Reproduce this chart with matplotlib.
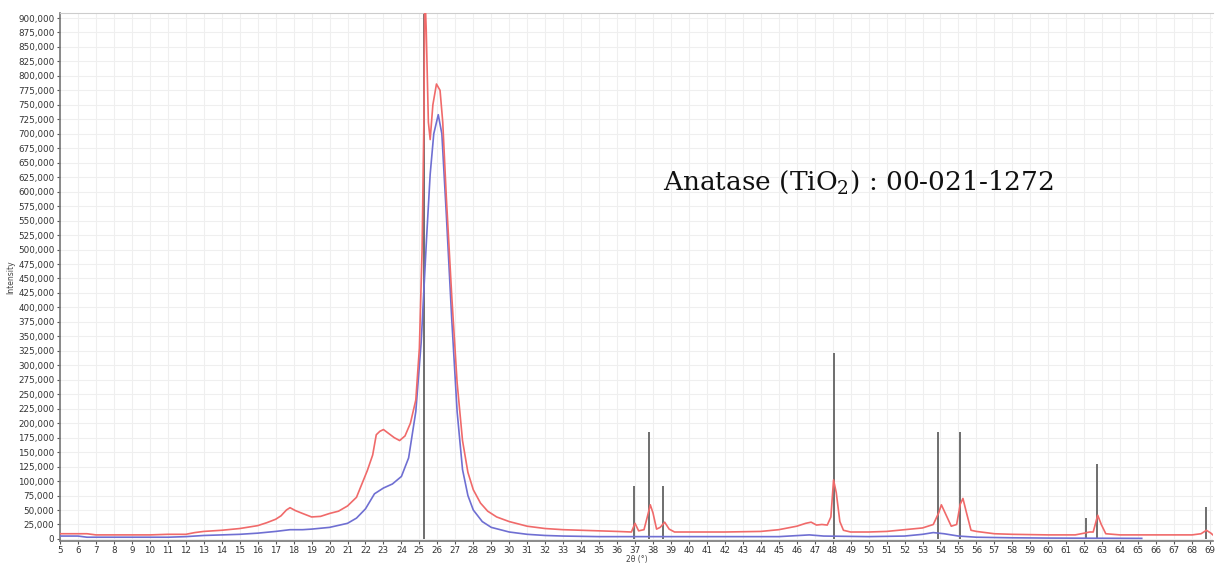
import numpy as np
import matplotlib
matplotlib.use("Agg")
import matplotlib.pyplot as plt
from matplotlib.ticker import FuncFormatter, MultipleLocator

red_x = [5, 5.5, 6, 6.5, 7, 8, 9, 10, 11, 12, 12.5, 13, 14, 15, 16, 16.5, 17, 17.3, 17.6, 17.8,
         18.1, 18.5, 19, 19.5, 20, 20.5, 21, 21.5, 21.8, 22.1, 22.4, 22.6, 22.8, 23.0, 23.3, 23.6,
         23.9, 24.2, 24.5, 24.8, 25.0, 25.15, 25.25, 25.3, 25.38, 25.5, 25.6, 25.75, 25.95, 26.15,
         26.3, 26.5, 26.8, 27.1, 27.4, 27.7, 28.0, 28.4, 28.8, 29.3, 30, 31, 32, 33, 34, 35, 36,
         36.8, 37.0, 37.2, 37.5, 37.7, 37.85, 38.0, 38.2, 38.4, 38.65, 38.9, 39.2, 40, 42, 44, 45,
         46, 46.5, 46.8, 47.1, 47.4, 47.7, 47.9, 48.05, 48.2, 48.4, 48.6, 49, 50, 51, 52, 53, 53.6,
         53.9, 54.05, 54.3, 54.6, 54.9, 55.1, 55.25, 55.45, 55.7, 56, 56.5, 57, 58, 60, 61.5, 62.0,
         62.3, 62.5, 62.75, 62.95, 63.2, 64, 66, 68, 68.5, 68.8, 69.05, 69.2]
red_y = [9e3, 9e3, 9e3, 9e3, 7e3, 7e3, 7e3, 7e3, 8e3, 8e3, 11e3, 13e3, 15e3, 18e3, 23e3, 28e3,
         34e3, 40e3, 50e3, 54e3, 49e3, 44e3, 38e3, 39e3, 44e3, 48e3, 57e3, 72e3, 95e3, 118e3,
         145e3, 180e3, 186e3, 189e3, 182e3, 175e3, 170e3, 178e3, 200e3, 240e3, 330e3, 500e3,
         720e3, 950e3, 880e3, 720e3, 690e3, 750e3, 786e3, 775e3, 720e3, 590e3, 420e3, 270e3,
         170e3, 115e3, 85e3, 62e3, 48e3, 38e3, 30e3, 22e3, 18e3, 16e3, 15e3, 14e3, 13e3, 12e3,
         27e3, 14e3, 16e3, 40e3, 59e3, 45e3, 17e3, 20e3, 29e3, 17e3, 12e3, 12e3, 12e3, 13e3,
         16e3, 22e3, 27e3, 29e3, 24e3, 25e3, 24e3, 38e3, 102e3, 80e3, 30e3, 15e3, 12e3, 12e3,
         13e3, 16e3, 19e3, 25e3, 45e3, 59e3, 42e3, 22e3, 25e3, 60e3, 70e3, 45e3, 15e3, 13e3,
         11e3, 9e3, 8e3, 7e3, 7e3, 10e3, 12e3, 12e3, 41e3, 25e3, 9e3, 7e3, 7e3, 7e3, 9e3, 15e3,
         10e3, 6e3]

blue_x = [5, 6, 6.5, 7, 8, 10, 11, 12, 13, 14, 15, 16, 17, 17.8, 18.5, 19, 20, 21, 21.5, 22,
          22.5, 23, 23.5, 24, 24.4, 24.8, 25.1, 25.4, 25.6, 25.8, 26.05, 26.25, 26.5, 26.8, 27.1,
          27.4, 27.7, 28.0, 28.5, 29, 30, 31, 32, 33, 35, 40, 45, 46.7, 47.5, 50, 52, 53, 53.6,
          54.2, 55, 56, 58, 60, 65.2]
blue_y = [5e3, 5e3, 3e3, 3e3, 3e3, 3e3, 3e3, 4e3, 6e3, 7e3, 8e3, 10e3, 13e3, 16e3, 16e3, 17e3,
          20e3, 27e3, 36e3, 52e3, 78e3, 88e3, 95e3, 108e3, 140e3, 220e3, 340e3, 520e3, 630e3,
          700e3, 733e3, 700e3, 560e3, 380e3, 220e3, 120e3, 75e3, 50e3, 30e3, 20e3, 12e3, 8e3,
          6e3, 5e3, 4e3, 4e3, 4e3, 7e3, 5e3, 4e3, 5e3, 8e3, 11e3, 9e3, 5e3, 3e3, 2e3, 1.5e3, 1e3]

# reference pattern 00-021-1272 (anatase): positions and relative intensities
ref_pos = [25.28, 36.95, 37.80, 38.58, 48.05, 53.89, 55.06, 62.12, 62.69, 68.76]
ref_int = [100, 10, 20, 10, 35, 20, 20, 4, 14, 6]
ref_scale = 9200

fig = plt.figure(figsize=(12.15, 5.67), dpi=100)
ax = fig.add_axes([0.0494, 0.046, 0.9490, 0.931])

ax.grid(True, which="major", color="#efefef", lw=0.8)
ax.set_axisbelow(True)

ax.vlines(ref_pos, 0, np.array(ref_int) * ref_scale, color="#6e6e6e", lw=1.4, zorder=2)
ax.plot(blue_x, blue_y, color="#6f6fd2", lw=1.2, zorder=3)
ax.plot(red_x, red_y, color="#f06a6a", lw=1.2, zorder=4)

ax.set_xlim(5, 69.17)
ax.set_ylim(-3400, 908600)
ax.xaxis.set_major_locator(MultipleLocator(1))
ax.yaxis.set_major_locator(MultipleLocator(25000))
ax.yaxis.set_major_formatter(FuncFormatter(lambda v, p: f"{int(round(v)):,}"))
ax.tick_params(labelsize=6.3, length=2.5, width=0.8, pad=1.5,
               colors="#555555", labelcolor="#333333")

for s in ["left", "bottom"]:
    ax.spines[s].set_color("#777777")
    ax.spines[s].set_linewidth(1.2)
ax.spines["top"].set_color("#cccccc")
ax.spines["right"].set_visible(False)

ax.set_ylabel("Intensity", fontsize=5.5, color="#444444", labelpad=2)
ax.set_xlabel("2θ (°)", fontsize=5.5, color="#444444", labelpad=0)

plt.rcParams["mathtext.fontset"] = "dejavuserif"
ax.text(38.55, 604000, r"Anatase (TiO$_2$) : 00-021-1272", family="DejaVu Serif",
        fontsize=19, color="#111111", va="baseline", ha="left")

fig.savefig("out.png", dpi=100)
